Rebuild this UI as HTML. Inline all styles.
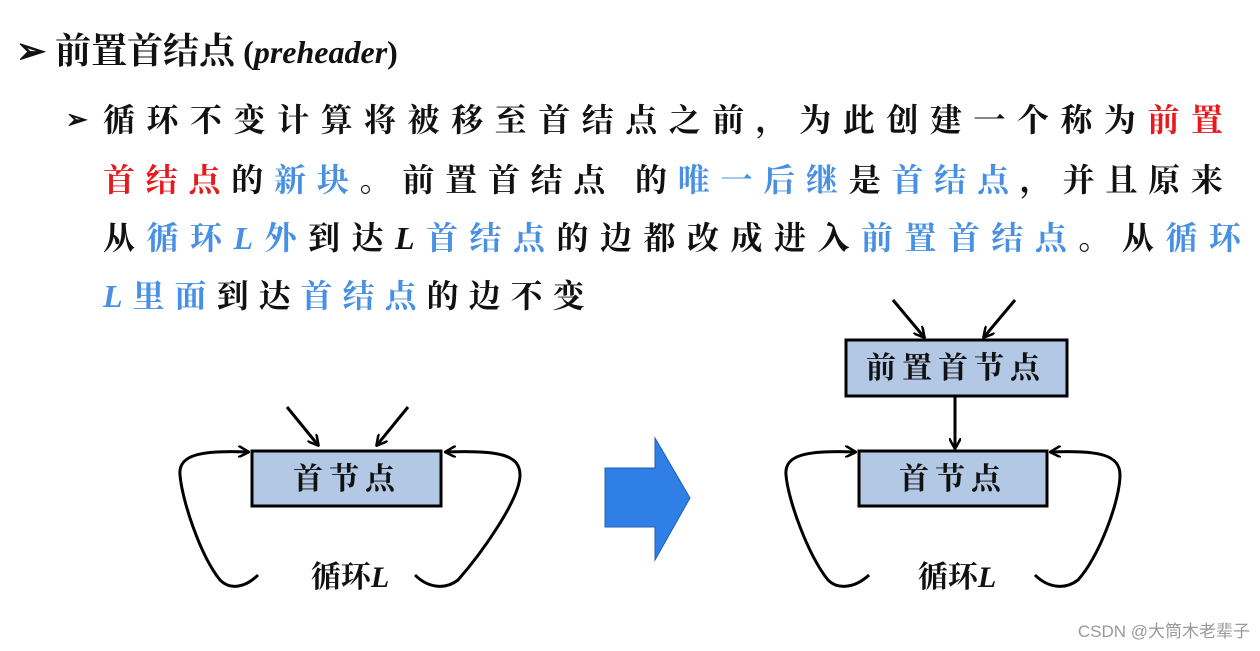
<!DOCTYPE html>
<html><head><meta charset="utf-8"><style>
body{margin:0;width:1260px;height:651px;background:#fff;position:relative;overflow:hidden;font-family:"Liberation Serif","Noto Serif CJK SC",serif;}
.t{position:absolute;font-weight:bold;font-size:32px;line-height:40px;white-space:nowrap;color:#111;}
.j{text-align:justify;text-align-last:justify;}
.r{color:#e8191c}.b{color:#4790e4}
i{font-family:"Liberation Serif",serif;}
</style></head><body>
<div class="t" style="left:16px;top:28px;font-size:36px;line-height:46px;">➢ 前置首结点<span style="font-size:32px"> (<i>preheader</i>)</span></div>
<div class="t" style="left:66px;top:100px;font-size:26px;">➢</div>
<div class="t j" style="left:103px;top:100px;width:1120px;">循环不变计算将被移至首结点之前，为此创建一个称为<span class="r">前置</span></div>
<div class="t j" style="left:103px;top:160px;width:1120px;"><span class="r">首结点</span>的<span class="b">新块</span>。前置首结点 的<span class="b">唯一后继</span>是<span class="b">首结点</span>，并且原来</div>
<div class="t j" style="left:103px;top:218px;width:1138px;">从<span class="b">循环<i>L</i>外</span>到达<i>L</i><span class="b">首结点</span>的边都改成进入<span class="b">前置首结点</span>。从<span class="b">循环</span></div>
<div class="t" style="left:103px;top:276px;letter-spacing:10px;"><span class="b"><i>L</i>里面</span>到达<span class="b">首结点</span>的边不变</div>

<svg width="1260" height="651" style="position:absolute;left:0;top:0" xmlns="http://www.w3.org/2000/svg">
<defs><marker id="a" markerWidth="12" markerHeight="12" refX="10" refY="6" orient="auto" markerUnits="userSpaceOnUse"><path d="M0,0 L11,6 L0,12" fill="none" stroke="#000" stroke-width="2.5"/></marker></defs>
<g stroke="#000" stroke-width="3" fill="none">
<rect x="252" y="451" width="189" height="55" fill="#b3c8e5"/>
<line x1="287" y1="407" x2="318" y2="445" marker-end="url(#a)"/>
<line x1="408" y1="407" x2="377" y2="445" marker-end="url(#a)"/>
<path d="M258,575 C245,588 230,590 220,580 C200,555 182,500 180,475 C178,455 200,450 248,452" marker-end="url(#a)"/>
<path d="M415,575 C428,588 445,590 458,580 C480,555 520,500 520,475 C520,455 500,450 446,452" marker-end="url(#a)"/>
<rect x="846" y="340" width="221" height="56" fill="#b3c8e5"/>
<rect x="859" y="451" width="188" height="55" fill="#b3c8e5"/>
<line x1="893" y1="300" x2="924" y2="337" marker-end="url(#a)"/>
<line x1="1015" y1="300" x2="984" y2="337" marker-end="url(#a)"/>
<line x1="955" y1="397" x2="955" y2="448" marker-end="url(#a)"/>
<path d="M869,575 C855,588 838,590 828,580 C808,555 788,500 786,475 C784,455 806,450 855,452" marker-end="url(#a)"/>
<path d="M1035,575 C1048,588 1065,590 1078,580 C1100,555 1120,500 1120,475 C1120,455 1100,450 1051,452" marker-end="url(#a)"/>
</g>
<polygon points="605,468 655,468 655,438 690,498 655,560 655,527 605,527" fill="#2f7fe6" stroke="#1f5fb0" stroke-width="1"/>
<g font-family="Liberation Serif,Noto Serif CJK SC,serif" font-weight="bold" font-size="30" text-anchor="middle" fill="#111">
<text x="347" y="489" letter-spacing="6">首节点</text>
<text x="956" y="378" letter-spacing="6">前置首节点</text>
<text x="953" y="489" letter-spacing="6">首节点</text>
<text x="350" y="587">循环<tspan font-style="italic">L</tspan></text>
<text x="957" y="587">循环<tspan font-style="italic">L</tspan></text>
</g>
<text x="1250" y="637" text-anchor="end" font-family="Liberation Sans,Noto Sans CJK SC,sans-serif" font-size="17" fill="#9a9a9a">CSDN @大筒木老辈子</text>
</svg>
</body></html>
